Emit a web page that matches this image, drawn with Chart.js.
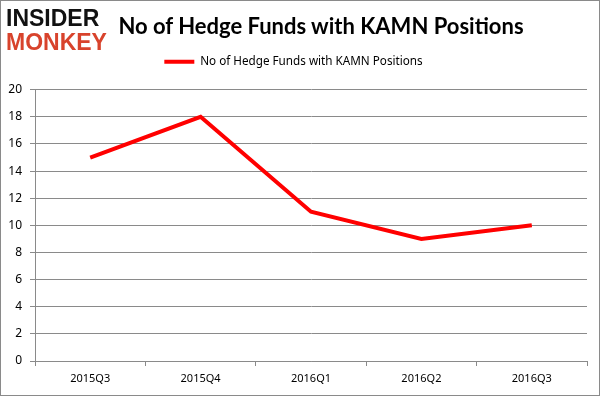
<!DOCTYPE html>
<html>
<head>
<meta charset="utf-8">
<script src="https://cdn.jsdelivr.net/npm/chart.js@4/dist/chart.umd.min.js"></script>
<style>
  html, body { margin: 0; padding: 0; background: #fff; }
  #wrap { position: relative; width: 600px; height: 396px; box-sizing: border-box; border: 1px solid #8a8a8a; overflow: hidden; }
  #kamn { position: absolute; left: -1px; top: -1px; }
  .logo { position: absolute; left: 5px; font-family: "Liberation Sans", sans-serif; font-weight: bold; font-size: 23px; line-height: 1; }
  #ttl { position: absolute; left: 0; width: 640px; top: 11px; text-align: center; font-family: Lato, sans-serif; font-weight: bold; font-size: 22px; color: #000; }
</style>
</head>
<body>
<div id="wrap">
  <canvas id="kamn" width="600" height="396"></canvas>
  <div class="logo" style="top:6px;color:#111;">INSIDER</div>
  <div class="logo" style="top:30px;color:#d8432c;">MONKEY</div>
  <div id="ttl">No of Hedge Funds with KAMN Positions</div>
</div>
<script>
const quarters = ['2015Q3', '2015Q4', '2016Q1', '2016Q2', '2016Q3'];
const hedgeFunds = [15, 18, 11, 9, 10];
const seriesName = 'No of Hedge Funds with KAMN Positions';

const ctx = document.getElementById('kamn').getContext('2d');

// extra room under the legend
const legendGap = {
  id: 'legendGap',
  beforeInit(chart) {
    const fit = chart.legend.fit;
    chart.legend.fit = function () {
      fit.bind(chart.legend)();
      this.height += 12;
    };
  }
};

window.kamnChart = new Chart(ctx, {
  type: 'line',
  data: {
    labels: quarters,
    datasets: [{
      label: seriesName,
      data: hedgeFunds,
      borderColor: '#ff0000',
      backgroundColor: '#ff0000',
      borderWidth: 4,
      pointRadius: 0,
      tension: 0
    }]
  },
  options: {
    responsive: false,
    animation: false,
    layout: {
      padding: { top: 48, right: 13, left: 0, bottom: 0 }
    },
    plugins: {
      legend: {
        display: true,
        labels: {
          font: { family: 'Noto Sans', size: 11.7 },
          color: '#000',
          usePointStyle: true,
          pointStyle: 'line',
          pointStyleWidth: 30,
          boxHeight: 4,
          padding: 8
        }
      },
      tooltip: { enabled: false }
    },
    scales: {
      x: {
        offset: true,
        afterFit(scale) { scale.height = 35; },
        grid: { display: true, drawOnChartArea: false, offset: true, tickLength: 5, color: '#8a8a8a' },
        border: { color: '#8a8a8a' },
        ticks: { font: { family: 'Noto Sans', size: 11 }, color: '#000', padding: 6 }
      },
      y: {
        min: 0,
        max: 20,
        afterFit(scale) { scale.width = 35; },
        grid: { color: '#8a8a8a', tickLength: 5 },
        border: { color: '#8a8a8a' },
        ticks: { stepSize: 2, font: { family: 'Noto Sans', size: 12 }, color: '#000', padding: 8 }
      }
    }
  },
  plugins: [legendGap]
});
</script>
</body>
</html>
